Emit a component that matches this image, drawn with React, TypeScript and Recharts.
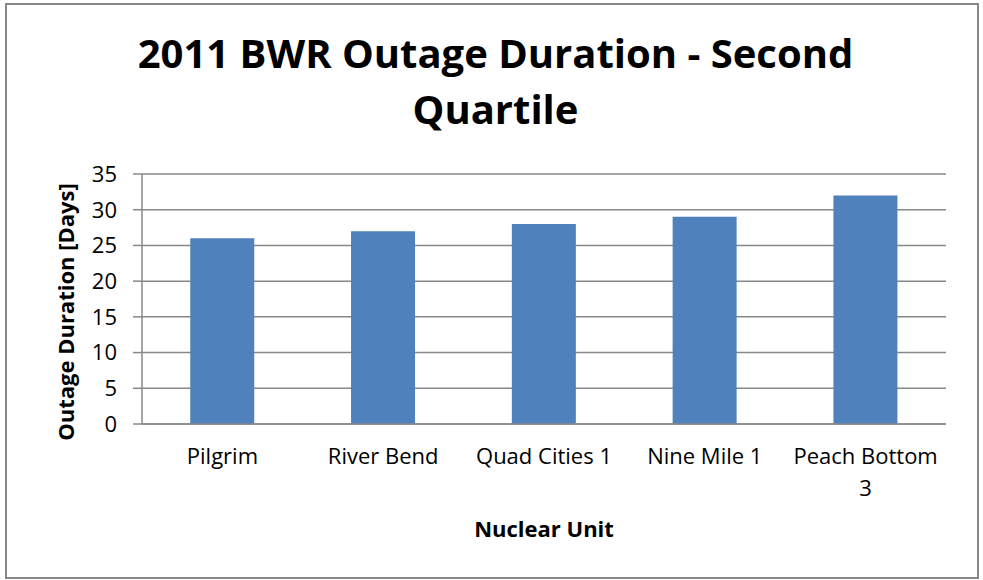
import React from 'react';
import { BarChart, Bar, XAxis, YAxis, CartesianGrid, Label } from 'recharts';

// Second quartile of 2011 BWR outages
const units = ['Pilgrim', 'River Bend', 'Quad Cities 1', 'Nine Mile 1', 'Peach Bottom 3'];
const durations = [26, 27, 28, 29, 32];
const yTicks = [0, 5, 10, 15, 20, 25, 30, 35];
const boundaryTicks = [0, 1, 2, 3, 4, 5];

const FONT = '"Open Sans", sans-serif';
const GRAY = '#888888';
const BAR = '#4F81BD';

const data = units.map((name, i) => ({ name, days: durations[i] }));

// rough word wrap by character count, enough for these labels
const wrapLabel = (label: string, maxChars = 13) => {
    const lines: string[] = [];
    let cur = '';
    label.split(' ').forEach(w => {
        const next = cur ? `${cur} ${w}` : w;
        if (next.length > maxChars && cur) {
            lines.push(cur);
            cur = w;
        } else {
            cur = next;
        }
    });
    if (cur) lines.push(cur);
    return lines;
};

const UnitTick = (props: any) => {
    const { x, y, payload } = props;
    const lines = wrapLabel(String(payload.value));
    return (
        <text x={x} y={y} textAnchor="middle" fontSize={22} fontFamily={FONT} fill="#000">
            {lines.map((line, i) => (
                <tspan key={i} x={x} dy={i === 0 ? 16 : 32}>
                    {line}
                </tspan>
            ))}
        </text>
    );
};

const App: React.FC = () => {
    return (
        <div style={{ position: 'absolute', left: 0, top: 0, width: 983, height: 580, background: '#fff' }}>
            <div
                style={{
                    position: 'absolute', left: 5, top: 3, width: 970, height: 572,
                    border: `2px solid ${GRAY}`,
                }}
            />
            <div
                style={{
                    position: 'absolute', left: 0, top: 25, width: 991, textAlign: 'center',
                    fontFamily: FONT, fontWeight: 700, fontSize: 40, lineHeight: '56px', color: '#000',
                }}
            >
                2011 BWR Outage Duration - Second
                <br />
                Quartile
            </div>
            <div style={{ position: 'absolute', left: 0, top: 0 }}>
                <BarChart
                    width={983}
                    height={580}
                    data={data}
                    margin={{ top: 174, right: 37, bottom: 56, left: 0 }}
                    barCategoryGap="30%"
                >
                    <CartesianGrid vertical={false} stroke={GRAY} strokeWidth={1.5} />
                    {/* boundary ticks between categories */}
                    <XAxis
                        xAxisId="edges"
                        type="number"
                        domain={[0, 5]}
                        ticks={boundaryTicks}
                        height={0}
                        axisLine={false}
                        tickLine={{ stroke: GRAY, strokeWidth: 1.5 }}
                        tickSize={7}
                        tickFormatter={() => ''}
                    />
                    <XAxis
                        dataKey="name"
                        height={100}
                        axisLine={{ stroke: GRAY, strokeWidth: 1.5 }}
                        tickLine={false}
                        tick={<UnitTick />}
                        tickMargin={18}
                        interval={0}
                    >
                        <Label
                            content={() => (
                                <text x={544} y={537} textAnchor="middle" fontFamily={FONT} fontWeight={700} fontSize={22} fill="#000">
                                    Nuclear Unit
                                </text>
                            )}
                        />
                    </XAxis>
                    <YAxis
                        width={142}
                        domain={[0, 35]}
                        ticks={yTicks}
                        interval={0}
                        axisLine={{ stroke: GRAY, strokeWidth: 1.5 }}
                        tickLine={{ stroke: GRAY, strokeWidth: 1.5 }}
                        tickSize={9}
                        tickMargin={16}
                        tick={{ fontSize: 22, fontFamily: FONT, fill: '#000' }}
                    >
                        <Label
                            content={() => (
                                <text
                                    x={74}
                                    y={312}
                                    transform="rotate(-90 74 312)"
                                    textAnchor="middle"
                                    fontFamily={FONT}
                                    fontWeight={700}
                                    fontSize={22}
                                    fill="#000"
                                >
                                    Outage Duration [Days]
                                </text>
                            )}
                        />
                    </YAxis>
                    <Bar dataKey="days" fill={BAR} isAnimationActive={false} />
                </BarChart>
            </div>
        </div>
    );
};

export default App;
